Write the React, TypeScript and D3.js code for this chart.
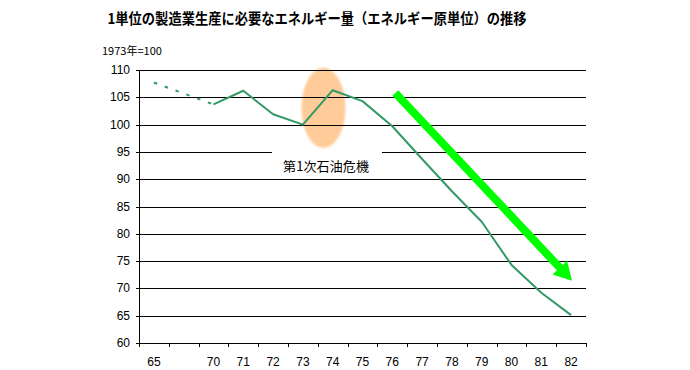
import React from 'react';
import * as d3 from 'd3';

// x categories (one blank slot between 65 and 70)
const categories = ['65', '', '70', '71', '72', '73', '74', '75', '76', '77', '78', '79', '80', '81', '82'];
// energy per unit of manufacturing output, 1973 = 100
const values: (number | null)[] = [107.7, null, 103.7, 106.2, 101.9, 100.0, 106.3, 104.3, 99.7, 93.7, 87.8, 82.2, 74.3, 69.2, 65.1];
const yTicks = [60, 65, 70, 75, 80, 85, 90, 95, 100, 105, 110];

const title = '1単位の製造業生産に必要なエネルギー量（エネルギー原単位）の推移';
const unitLabel = '1973年=100';
const crisisLabel = '第1次石油危機';

const W = 690;
const H = 370;
const left = 139;
const right = 586;
const top = 70;
const bottom = 343;

const numFont = '"Liberation Sans", Arial, sans-serif';
const jpFont = '"Noto Sans CJK JP", sans-serif';

export default function App() {
  const x = d3.scaleBand<string>().domain(categories).range([left, right]).padding(0);
  const y = d3.scaleLinear().domain([60, 110]).range([bottom, top]);
  const bw = x.bandwidth();
  const cx = (c: string) => (x(c) ?? 0) + bw / 2;

  const pts = categories
    .map((c, i) => ({ c, v: values[i] }))
    .filter(d => d.v != null) as { c: string; v: number }[];

  const line = d3.line<{ c: string; v: number }>()
    .x(d => cx(d.c))
    .y(d => y(d.v));

  const dashed = line(pts.filter(d => d.c === '65' || d.c === '70')) || '';
  const solid = line(pts.filter(d => d.c !== '65')) || '';

  // annotation positions derived from the scales
  const ellCx = cx('73') + bw * 0.69;
  const ellCy = y(103.05);
  const ellRx = 22;
  const ellRy = y(95.7) - y(103.05);

  const a0 = [cx('76') + 3, y(105.8)];
  const a1 = [cx('82') + 1, y(71.4)];
  const dx = a1[0] - a0[0];
  const dy = a1[1] - a0[1];
  const len = Math.hypot(dx, dy);
  const ux = dx / len;
  const uy = dy / len;
  const headLen = 18;
  const headW = 10;
  const bx = a1[0] - ux * headLen;
  const by = a1[1] - uy * headLen;
  const head = `M${a1[0]},${a1[1]} L${bx - uy * headW},${by + ux * headW} L${bx + uy * headW},${by - ux * headW} Z`;

  const labelY = y(92.3);
  const labelX = cx('73') + 10;

  return (
    <svg width={W} height={H} style={{ position: 'absolute', left: 0, top: 0, background: '#fff' }}>
      <defs>
        <filter id="soft" x="-20%" y="-20%" width="140%" height="140%">
          <feGaussianBlur stdDeviation="0.8" />
        </filter>
      </defs>
      <rect width={W} height={H} fill="#fff" />

      <text x={317} y={24} textAnchor="middle" fontFamily={jpFont} fontWeight="bold" fontSize={14.5}
        textLength={419} lengthAdjust="spacingAndGlyphs">{title}</text>

      <text x={102} y={55} fontFamily={jpFont} fontSize={11}>{unitLabel}</text>

      <ellipse cx={ellCx} cy={ellCy} rx={ellRx} ry={ellRy} fill="#FFCC99" filter="url(#soft)" />

      {/* gridlines */}
      {yTicks.filter(t => t > 60).map(t => (
        <line key={t} x1={left} x2={right} y1={Math.round(y(t)) + 0.5} y2={Math.round(y(t)) + 0.5}
          stroke="#000" strokeWidth={1} />
      ))}

      {/* label with white box breaking the 95 gridline */}
      <rect x={272} y={labelY - 16} width={110} height={26} fill="#fff" />
      <text x={326} y={labelY + 4} textAnchor="middle" fontFamily={jpFont} fontSize={13}
        textLength={86} lengthAdjust="spacing">{crisisLabel}</text>

      {/* axes */}
      <line x1={left + 0.5} x2={left + 0.5} y1={Math.round(top)} y2={Math.round(bottom) + 1} stroke="#000" />
      <line x1={left - 3} x2={right} y1={Math.round(bottom) + 0.5} y2={Math.round(bottom) + 0.5} stroke="#000" />
      {yTicks.map(t => (
        <g key={t}>
          <line x1={left - 3} x2={left} y1={Math.round(y(t)) + 0.5} y2={Math.round(y(t)) + 0.5} stroke="#000" />
          <text x={130} y={y(t) + 4} textAnchor="end" fontFamily={numFont} fontSize={12}>{t}</text>
        </g>
      ))}
      {categories.map((c, i) => (
        <g key={i}>
          <line x1={Math.round(x(c) ?? 0) + 0.5} x2={Math.round(x(c) ?? 0) + 0.5}
            y1={bottom} y2={bottom + 4} stroke="#000" />
          <text x={cx(c)} y={366} textAnchor="middle" fontFamily={numFont} fontSize={12}>{c}</text>
        </g>
      ))}
      <line x1={right + 0.5} x2={right + 0.5} y1={bottom} y2={bottom + 4} stroke="#000" />

      {/* series */}
      <path d={dashed} fill="none" stroke="#339966" strokeWidth={2} strokeDasharray="3.5,8" />
      <path d={solid} fill="none" stroke="#339966" strokeWidth={2} strokeLinejoin="round" />

      {/* trend arrow */}
      <line x1={a0[0]} y1={a0[1]} x2={bx + ux * 2} y2={by + uy * 2} stroke="#00FF00" strokeWidth={8} />
      <path d={head} fill="#00FF00" />
    </svg>
  );
}
